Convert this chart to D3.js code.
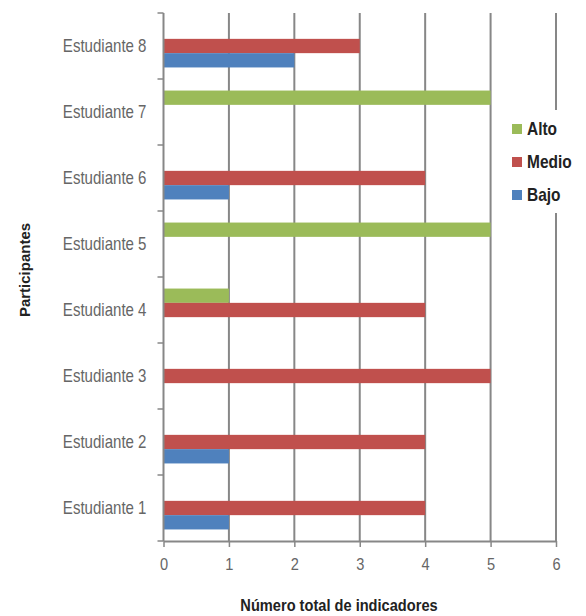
<!DOCTYPE html>
<html>
<head>
<meta charset="utf-8">
<script src="https://cdn.jsdelivr.net/npm/d3@7"></script>
<style>
  html, body { margin: 0; padding: 0; background: #fff; }
  svg { display: block; }
  text { font-family: "Liberation Sans", Arial, sans-serif; }
</style>
</head>
<body>
<svg id="chart" width="586" height="616"></svg>
<script>
// Participants (bottom to top) and the number of indicators per level
const categories = ["Estudiante 1", "Estudiante 2", "Estudiante 3", "Estudiante 4",
                    "Estudiante 5", "Estudiante 6", "Estudiante 7", "Estudiante 8"];
const bajo  = [1, 1, 0, 0, 0, 1, 0, 2];
const medio = [4, 4, 5, 4, 0, 4, 0, 3];
const alto  = [0, 0, 0, 1, 5, 0, 5, 0];
const seriesNames = ["Alto", "Medio", "Bajo"];
const xTicks = [0, 1, 2, 3, 4, 5, 6];

const colors = { Alto: "#9BBB59", Medio: "#C0504D", Bajo: "#4F81BD" };
const values = { Alto: alto, Medio: medio, Bajo: bajo };

const svg = d3.select("#chart");
const plotLeft = 163.5, plotRight = 556, plotTop = 13, plotBottom = 541;
const condense = 0.86; // horizontal squeeze for the narrow-looking labels

const x = d3.scaleLinear().domain([0, 6]).range([plotLeft, plotRight]);
const y = d3.scaleBand().domain(categories.slice().reverse()).range([plotTop, plotBottom]);
const inner = d3.scaleBand().domain(seriesNames)
  .range([y.bandwidth() * 0.175, y.bandwidth() * 0.825]);

const gridColor = "#878787";

// vertical gridlines
svg.append("g").selectAll("line")
  .data(xTicks.filter(d => d > 0))
  .join("line")
  .attr("x1", d => x(d)).attr("x2", d => x(d))
  .attr("y1", plotTop).attr("y2", plotBottom)
  .attr("stroke", gridColor).attr("stroke-width", 2);

// bars
const rows = [];
categories.forEach((c, i) => {
  seriesNames.forEach(s => {
    if (values[s][i] > 0) rows.push({ cat: c, series: s, value: values[s][i] });
  });
});
svg.append("g").selectAll("rect")
  .data(rows)
  .join("rect")
  .attr("x", x(0))
  .attr("y", d => y(d.cat) + inner(d.series))
  .attr("width", d => x(d.value) - x(0))
  .attr("height", inner.bandwidth())
  .attr("fill", d => colors[d.series]);

// x axis
const xAxis = svg.append("g")
  .attr("transform", `translate(0,${plotBottom})`)
  .call(d3.axisBottom(x).tickValues(xTicks).tickFormat(d3.format("d"))
    .tickSize(6).tickSizeOuter(0).tickPadding(11));
xAxis.select(".domain").attr("stroke", gridColor).attr("stroke-width", 2);
xAxis.selectAll(".tick line").attr("stroke", gridColor).attr("stroke-width", 1.5);
xAxis.selectAll(".tick text")
  .attr("font-size", 17).attr("fill", "#666")
  .attr("font-family", "Liberation Sans, Arial, sans-serif")
  .attr("transform", `scale(${condense},1)`)
  .attr("x", 0);

// y axis: ticks mark the boundaries between participants
const yAxis = svg.append("g").attr("transform", `translate(${plotLeft},0)`);
yAxis.append("line")
  .attr("x1", 0).attr("x2", 0).attr("y1", plotTop).attr("y2", plotBottom)
  .attr("stroke", gridColor).attr("stroke-width", 2);
const boundaries = categories.slice().reverse().map(c => y(c)).concat([plotBottom]);
yAxis.selectAll("line.tk")
  .data(boundaries)
  .join("line")
  .attr("class", "tk")
  .attr("x1", -6).attr("x2", 0)
  .attr("y1", d => d).attr("y2", d => d)
  .attr("stroke", gridColor).attr("stroke-width", 1.5);
yAxis.selectAll("text")
  .data(categories)
  .join("text")
  .attr("transform", d => `translate(-17,${y(d) + y.bandwidth() / 2}) scale(${condense},1)`)
  .attr("dy", "0.35em")
  .attr("text-anchor", "end")
  .attr("font-size", 17.5)
  .attr("fill", "#666")
  .text(d => d);

// axis titles
svg.append("text")
  .attr("transform", `translate(339,611) scale(${condense},1)`)
  .attr("text-anchor", "middle")
  .attr("font-size", 17).attr("font-weight", "bold").attr("fill", "#222")
  .text("Número total de indicadores");
svg.append("text")
  .attr("transform", "translate(30,270) rotate(-90)")
  .attr("text-anchor", "middle")
  .attr("font-size", 15).attr("font-weight", "bold").attr("fill", "#222")
  .text("Participantes");

// legend
const legend = svg.append("g");
legend.append("rect")
  .attr("x", 504).attr("y", 110).attr("width", 82).attr("height", 103)
  .attr("fill", "#fff");
const items = legend.selectAll("g.item")
  .data(seriesNames)
  .join("g")
  .attr("class", "item")
  .attr("transform", (d, i) => `translate(512,${129 + i * 33})`);
items.append("rect")
  .attr("x", 0).attr("y", -5).attr("width", 10).attr("height", 10)
  .attr("fill", d => colors[d]);
items.append("text")
  .attr("transform", `translate(15,0) scale(${condense},1)`)
  .attr("dy", "0.35em")
  .attr("font-size", 18).attr("font-weight", "bold").attr("fill", "#222")
  .text(d => d);
</script>
</body>
</html>
